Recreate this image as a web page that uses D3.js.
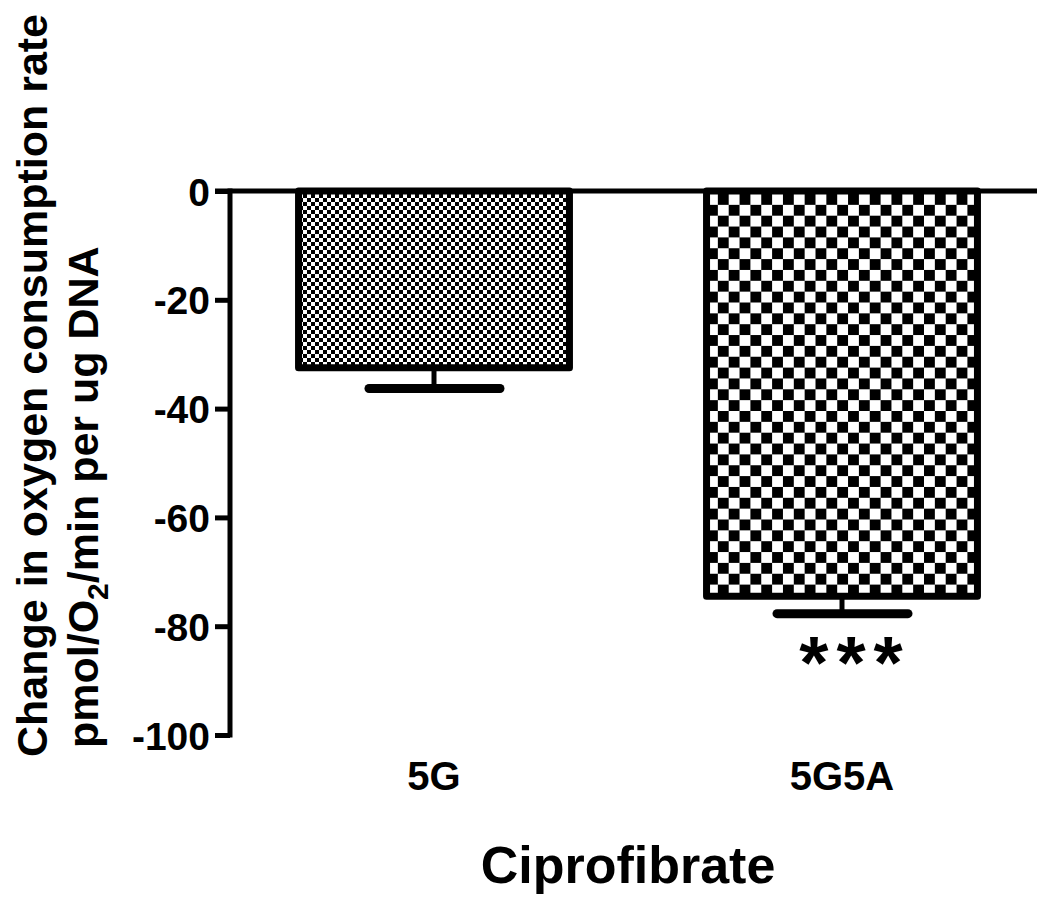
<!DOCTYPE html>
<html>
<head>
<meta charset="utf-8">
<script src="https://cdn.jsdelivr.net/npm/d3@7"></script>
<style>
  html, body { margin: 0; padding: 0; background: #fff; }
  svg text { font-family: "Liberation Sans", Arial, Helvetica, sans-serif; font-weight: bold; fill: #000; }
</style>
</head>
<body>
<svg id="chart" width="1037" height="900"></svg>
<script>
// ---- data ----
const categories = ["5G", "5G5A"];
const means = [-32.5, -74.5];
const errors = [3.8, 3.2];
const yTicks = [0, -20, -40, -60, -80, -100];
const significance = ["", "***"];
const patternCells = [4, 10.85];

const svg = d3.select("#chart");

const x = d3.scaleBand().domain(categories).range([230, 1046]).paddingInner(0.336).paddingOuter(0.168);
const y = d3.scaleLinear().domain([-100, 0]).range([735, 191]);

// patterns
const defs = svg.append("defs");
patternCells.forEach((c, i) => {
  const p = defs.append("pattern")
    .attr("id", "pat" + i)
    .attr("patternUnits", "userSpaceOnUse")
    .attr("width", 2 * c).attr("height", 2 * c)
    .attr("x", i === 0 ? 299 : 707).attr("y", 194);
  p.append("rect").attr("width", 2 * c).attr("height", 2 * c).attr("fill", "#fff");
  p.append("rect").attr("x", c).attr("y", 0).attr("width", c).attr("height", c).attr("fill", "#000");
  p.append("rect").attr("x", 0).attr("y", c).attr("width", c).attr("height", c).attr("fill", "#000");
});

// bars
svg.selectAll("rect.bar").data(categories).enter().append("rect")
  .attr("class", "bar")
  .attr("x", d => x(d))
  .attr("y", y(0))
  .attr("width", x.bandwidth())
  .attr("height", (d, i) => y(means[i]) - y(0))
  .attr("fill", (d, i) => "url(#pat" + i + ")")
  .attr("stroke", "#000")
  .attr("stroke-width", 7)
  .attr("stroke-linejoin", "round");

// error bars
categories.forEach((d, i) => {
  const cx = x(d) + x.bandwidth() / 2;
  svg.append("line")
    .attr("x1", cx).attr("x2", cx)
    .attr("y1", y(means[i])).attr("y2", y(means[i] - errors[i]))
    .attr("stroke", "#000").attr("stroke-width", 5);
  svg.append("line")
    .attr("x1", cx - 65).attr("x2", cx + 66)
    .attr("y1", y(means[i] - errors[i])).attr("y2", y(means[i] - errors[i]))
    .attr("stroke", "#000").attr("stroke-width", 9).attr("stroke-linecap", "round");
});

// zero line
svg.append("line")
  .attr("x1", 215).attr("x2", 1037)
  .attr("y1", y(0)).attr("y2", y(0))
  .attr("stroke", "#000").attr("stroke-width", 5);

// y axis
const yAxis = d3.axisLeft(y).tickValues(yTicks).tickSize(15).tickSizeOuter(0).tickPadding(5)
  .tickFormat(d3.format("d"));
const gy = svg.append("g").attr("transform", "translate(230,0)").call(yAxis);
gy.select(".domain").attr("stroke", "#000").attr("stroke-width", 5).attr("d", "M0," + (y(-100) + 2.5) + "V" + (y(0) - 2.5));
gy.selectAll(".tick line").attr("stroke", "#000").attr("stroke-width", 5);
gy.selectAll(".tick text").attr("font-size", 39).attr("dy", "0.36em")
  .attr("font-family", "Liberation Sans, Arial, sans-serif").attr("font-weight", "bold").attr("fill", "#000")
  .text(d => d === 0 ? "0" : "-" + Math.abs(d));

// category labels
svg.selectAll("text.cat").data(categories).enter().append("text")
  .attr("class", "cat")
  .attr("x", d => x(d) + x.bandwidth() / 2)
  .attr("y", 790)
  .attr("text-anchor", "middle")
  .attr("font-size", 40)
  .text(d => d);

// significance
svg.selectAll("text.sig").data(categories).enter().append("text")
  .attr("class", "sig")
  .attr("x", d => x(d) + x.bandwidth() / 2 + 13)
  .attr("y", 688)
  .attr("text-anchor", "middle")
  .attr("font-size", 75)
  .attr("letter-spacing", 8)
  .text((d, i) => significance[i]);

// x title
svg.append("text")
  .attr("x", 628).attr("y", 883)
  .attr("text-anchor", "middle")
  .attr("font-size", 52)
  .text("Ciprofibrate");

// y title
svg.append("text")
  .attr("transform", "translate(47,757) rotate(-90)")
  .attr("text-anchor", "start")
  .attr("font-size", 43)
  .text("Change in oxygen consumption rate");

const t2 = svg.append("text")
  .attr("transform", "translate(98,748) rotate(-90)")
  .attr("text-anchor", "start")
  .attr("font-size", 43);
t2.append("tspan").text("pmol/O");
t2.append("tspan").attr("font-size", 30).attr("dy", 10).text("2");
t2.append("tspan").attr("dy", -10).text("/min per ug DNA");
</script>
</body>
</html>
